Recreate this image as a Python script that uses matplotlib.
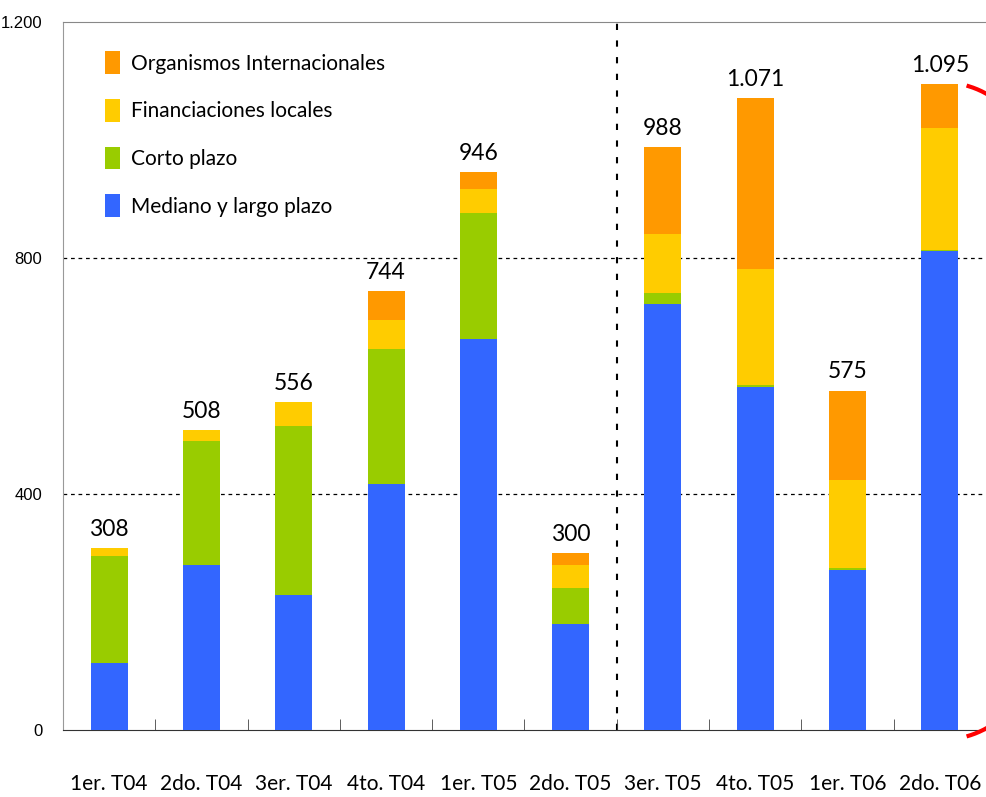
import numpy as np
import matplotlib.pyplot as plt
from matplotlib.lines import Line2D

quarters = ['1er. T04', '2do. T04', '3er. T04', '4to. T04', '1er. T05',
            '2do. T05', '3er. T05', '4to. T05', '1er. T06', '2do. T06']
mediano = [113, 280, 228, 417, 663, 180, 722, 582, 272, 812]
corto = [182, 210, 288, 229, 213, 61, 19, 3, 2, 2]
locales = [13, 18, 40, 49, 41, 38, 99, 196, 150, 206]
organismos = [0, 0, 0, 49, 29, 21, 148, 290, 151, 75]
totals = ['308', '508', '556', '744', '946', '300', '988', '1.071', '575', '1.095']

series = [
    ('Mediano y largo plazo', mediano, '#3366ff'),
    ('Corto plazo', corto, '#99cc00'),
    ('Financiaciones locales', locales, '#ffcc00'),
    ('Organismos Internacionales', organismos, '#ff9900'),
]

font = 'Lato'
W, H = 987, 797

fig = plt.figure(figsize=(W / 100, H / 100), dpi=100)
ax = fig.add_axes([63 / W, 1 - 730 / H, 923 / W, 708 / H])

x = np.arange(len(quarters))
bottom = np.zeros(len(quarters))
handles = []
for name, vals, color in series:
    b = ax.bar(x, vals, width=0.4, bottom=bottom, color=color, label=name,
               edgecolor='none', zorder=3)
    handles.append(b)
    bottom += np.array(vals)

for xi, top, lab in zip(x, bottom, totals):
    ax.text(xi, top + 14, lab, ha='center', va='bottom', fontsize=16.5,
            family=font, color='black')

ax.set_xlim(-0.5, len(quarters) - 0.5)
ax.set_ylim(0, 1200)
ax.set_yticks([0, 400, 800, 1200])
ax.set_yticklabels(['0', '400', '800', '1.200'], family='Liberation Sans',
                   fontsize=12)
ax.tick_params(axis='y', length=0, pad=15)

ax.set_xticks(x)
ax.set_xticklabels(quarters, family=font, fontsize=15)
ax.tick_params(axis='x', length=0, pad=32)
ax.set_xticks(np.arange(0.5, len(quarters) - 1, 1), minor=True)
ax.tick_params(axis='x', which='minor', direction='in', length=8, color='#444444')

for yv in [400, 800]:
    ax.axhline(yv, color='black', linestyle=(0, (3, 3)), linewidth=0.9, zorder=1)
ax.axvline(5.5, color='black', linestyle=(0, (3, 5)), linewidth=1.5, zorder=1)

ax.spines['right'].set_visible(False)
ax.spines['top'].set_color('#888888')
ax.spines['left'].set_color('#999999')
ax.spines['bottom'].set_color('#333333')

leg = ax.legend(handles[::-1], [s[0] for s in series][::-1], loc='upper left',
                bbox_to_anchor=(0.025, 0.985), frameon=False,
                prop={'family': font, 'size': 15}, handlelength=0.75,
                handleheight=1.3, handletextpad=0.5, labelspacing=1.2)

# red highlight arc around the last bar (partly outside the picture)
t = np.radians(np.linspace(-82, 82, 200))
arc_x = (947 + 155 * np.cos(t)) / W
arc_y = 1 - (411 + 328 * np.sin(t)) / H
fig.add_artist(Line2D(arc_x, arc_y, color='red', linewidth=3,
                      transform=fig.transFigure, clip_on=False))

fig.savefig('out.png', dpi=100)
